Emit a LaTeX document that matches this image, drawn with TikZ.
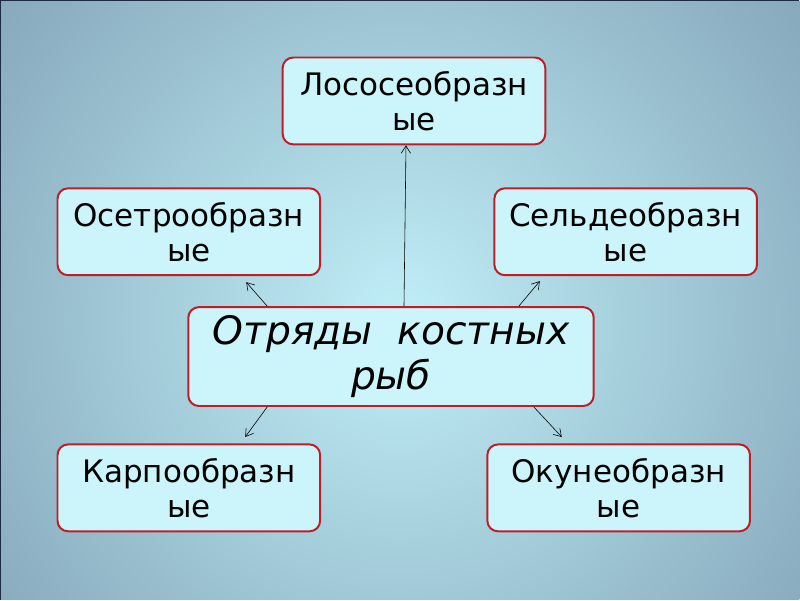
\documentclass[tikz,border=0pt]{standalone}
\usepackage{fontspec}
\setmainfont{DejaVu Sans}
\usetikzlibrary{arrows.meta}
\definecolor{boxfill}{HTML}{CCF5FB}
\definecolor{boxline}{HTML}{BE1E28}
\definecolor{framedark}{HTML}{1E2A40}
\definecolor{bginner}{HTML}{C0EEF7}
\definecolor{bgouter}{HTML}{66829A}

\begin{document}
\begin{tikzpicture}[x=0.3mm,y=-0.3mm,
    order/.style={draw=boxline,fill=boxfill,line width=1.7pt,rounded corners=9pt,
      minimum width=78.9mm,minimum height=26.1mm,align=center,
      font=\fontsize{26.5}{30}\selectfont},
    rootbox/.style={order,minimum width=121.8mm,minimum height=29.7mm,
      font=\fontsize{33.5}{39}\selectfont\itshape},
    conn/.style={-{Straight Barb[length=2.2mm,width=2.8mm]},line width=0.5pt}]
    % background
    \begin{scope}
      \clip (0,0) rectangle (800,600);
      \shade[inner color=bginner,outer color=bgouter] (-400,-480) rectangle (1200,1120);
    \end{scope}
    \draw[framedark,line width=1pt] (0,600) -- (0,0) -- (800,0);
    \useasboundingbox (0,0) rectangle (800,600);
    % boxes
    \node[order] (salmon) at (414,100.5) {Лососеобразн\\ые};
    \node[order] (sturgeon) at (188.5,231.5) {Осетрообразн\\ые};
    \node[order] (herring) at (626,231.5) {Сельдеобразн\\ые};
    \node[rootbox] (root) at (391,356.5) {Отряды\ \ костных\\рыб};
    \node[order] (carp) at (188.5,488) {Карпообразн\\ые};
    \node[order] (perch) at (619,488) {Окунеобразн\\ые};
    % free ends of the short arrows
    \coordinate (tipsw) at (246,282);
    \coordinate (tipse) at (540,281);
    \coordinate (tipcarp) at (245,437);
    \coordinate (tipperch) at (562,437);
    % arrows
    \draw[conn] ([xshift=3.9mm]root.north) -- ([xshift=-2.4mm]salmon.south);
    \draw[conn] ([xshift=24mm]root.north west) -- (tipsw);
    \draw[conn] ([xshift=99.6mm]root.north west) -- (tipse);
    \draw[conn] ([xshift=24mm]root.south west) -- (tipcarp);
    \draw[conn] ([xshift=104.1mm]root.south west) -- (tipperch);
\end{tikzpicture}
\end{document}
